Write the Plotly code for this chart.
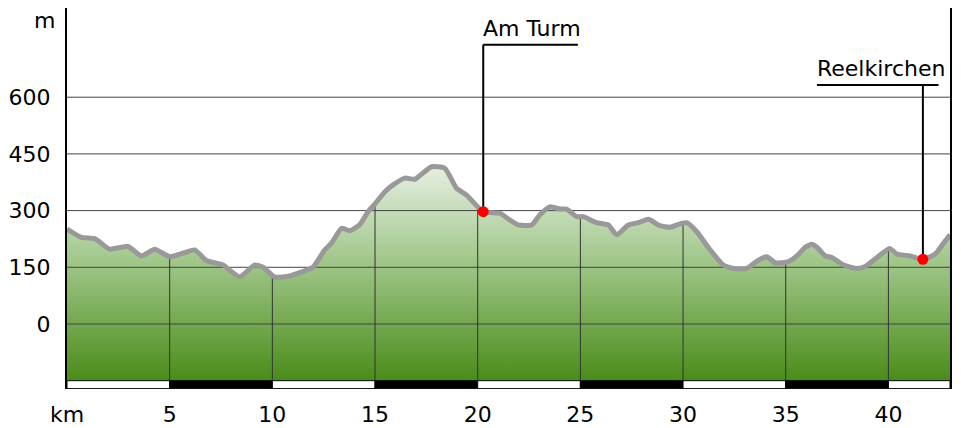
import numpy as np
import plotly.graph_objects as go

# ---- data ----
km = [0.0, 0.7, 1.35, 2.08, 2.97, 3.62, 4.27, 5.0, 5.73, 6.22, 6.79, 7.27, 7.6, 8.41,
      9.14, 9.55, 10.12, 10.85, 11.33, 11.98, 12.55, 12.88, 13.37, 13.77, 14.26, 14.66,
      15.0, 15.48, 15.88, 16.45, 16.94, 17.75, 18.4, 18.97, 19.46, 20.27, 21.08, 21.57,
      21.97, 22.63, 23.03, 23.52, 24.0, 24.33, 24.82, 25.14, 25.79, 26.36, 26.77, 27.33,
      27.82, 28.31, 28.88, 29.37, 29.85, 30.18, 30.67, 31.32, 31.96, 32.45, 33.1, 33.67,
      34.08, 34.49, 35.14, 35.54, 35.95, 36.27, 36.52, 36.93, 37.25, 37.82, 38.47, 38.87,
      39.44, 40.06, 40.41, 41.06, 41.68, 42.28, 42.69, 43.0]
elev = [251, 229, 226, 198, 205, 180, 198, 178, 189, 196, 168, 161, 156, 125,
        156, 150, 124, 127, 136, 150, 196, 214, 253, 247, 263, 297,
        318, 350, 368, 386, 383, 416, 412, 359, 341, 297, 293, 275,
        262, 262, 289, 310, 304, 304, 284, 284, 268, 262, 236, 262,
        268, 277, 260, 256, 265, 268, 244, 196, 156, 147, 147, 169,
        178, 162, 165, 180, 203, 211, 203, 180, 176, 156, 147, 152,
        176, 200, 185, 180, 171, 185, 214, 236]
waypoint_names = ["Am Turm", "Reelkirchen"]
waypoint_km = [20.27, 41.68]
y_ticks = [0, 150, 300, 450, 600]
x_ticks = [0, 5, 10, 15, 20, 25, 30, 35, 40]
x_ticktext = ["km", "5", "10", "15", "20", "25", "30", "35", "40"]

# ---- style constants ----
BASE = -150
BAR_BOTTOM = -171
X_MAX = 43
FONT = "DejaVu Sans"
leader_top = [739, 632]          # y of horizontal leader lines
leader_span = [(20.27, 24.88), (36.52, 42.44)]
label_pos = [(20.27, 782), (36.5, 677)]

km_a = np.array(km)
elev_a = np.array(elev, dtype=float)
wp_elev = np.interp(waypoint_km, km_a, elev_a)

fig = go.Figure()

# base line for fill
fig.add_trace(go.Scatter(x=km, y=[BASE] * len(km), mode="lines",
                         line=dict(width=0, color="rgba(0,0,0,0)"),
                         hoverinfo="skip", showlegend=False))
# gradient fill
fig.add_trace(go.Scatter(x=km, y=elev, mode="lines", fill="tonexty",
                         line=dict(width=0, color="rgba(0,0,0,0)", shape="spline", smoothing=0.5),
                         fillgradient=dict(type="vertical",
                                           colorscale=[[0, "#4a8c1a"], [0.55, "#9fc688"], [1, "#e6efe2"]],
                                           start=BASE, stop=float(elev_a.max())),
                         hoverinfo="skip", showlegend=False))

# horizontal grid lines
gx, gy = [], []
for v in y_ticks:
    gx += [0, X_MAX, None]
    gy += [v, v, None]
fig.add_trace(go.Scatter(x=gx, y=gy, mode="lines", line=dict(color="#444444", width=1),
                         hoverinfo="skip", showlegend=False))
# vertical grid lines (only under the profile)
vx, vy = [], []
for t in x_ticks[1:]:
    vx += [t, t, None]
    vy += [BASE, float(np.interp(t, km_a, elev_a)), None]
fig.add_trace(go.Scatter(x=vx, y=vy, mode="lines", line=dict(color="#333333", width=1),
                         hoverinfo="skip", showlegend=False))

# profile line
fig.add_trace(go.Scatter(x=km, y=elev, mode="lines",
                         line=dict(color="#999999", width=5, shape="spline", smoothing=0.5),
                         hoverinfo="skip", showlegend=False))

# leader lines
for i, name in enumerate(waypoint_names):
    x0, x1 = leader_span[i]
    fig.add_trace(go.Scatter(x=[waypoint_km[i], waypoint_km[i], None, x0, x1],
                             y=[wp_elev[i], leader_top[i], None, leader_top[i], leader_top[i]],
                             mode="lines", line=dict(color="black", width=2),
                             hoverinfo="skip", showlegend=False))
    fig.add_annotation(x=label_pos[i][0], y=label_pos[i][1], text=name, showarrow=False,
                       xanchor="left", yanchor="middle", xshift=-2,
                       font=dict(family=FONT, size=22, color="black"))

# waypoint markers
fig.add_trace(go.Scatter(x=waypoint_km, y=wp_elev, mode="markers",
                         marker=dict(color="red", size=11),
                         hoverinfo="skip", showlegend=False, cliponaxis=False))

# bottom distance bar
edges = list(range(0, X_MAX, 5)) + [X_MAX]
for i in range(len(edges) - 1):
    fig.add_shape(type="rect", x0=edges[i], x1=edges[i + 1], y0=BAR_BOTTOM, y1=BASE,
                  xref="x", yref="y", fillcolor="black" if i % 2 else "white",
                  line=dict(color="black", width=1), layer="above")

# "m" unit label
fig.add_annotation(x=0, xref="paper", xanchor="right", xshift=-10,
                   y=802, yref="y", yanchor="middle", text="m", showarrow=False,
                   font=dict(family=FONT, size=22, color="black"))

fig.update_xaxes(range=[0, X_MAX], tickvals=x_ticks, ticktext=x_ticktext,
                 showgrid=False, zeroline=False, showline=False, ticks="",
                 tickfont=dict(family=FONT, size=22, color="black"),
                 ticklabelstandoff=10, automargin=False)
fig.update_yaxes(range=[BAR_BOTTOM - 1, 836], tickvals=y_ticks,
                 showgrid=False, zeroline=False, showline=True, mirror=True,
                 linecolor="black", linewidth=2, ticks="",
                 tickfont=dict(family=FONT, size=22, color="black"),
                 ticklabelstandoff=10, automargin=False)
fig.update_layout(width=961, height=428, margin=dict(l=67, r=11, t=8, b=39),
                  plot_bgcolor="white", paper_bgcolor="white", showlegend=False,
                  font=dict(family=FONT))

fig.write_html("out.html", config={"displayModeBar": False},
               post_script="document.body.style.margin='0';document.body.style.overflow='hidden';")
